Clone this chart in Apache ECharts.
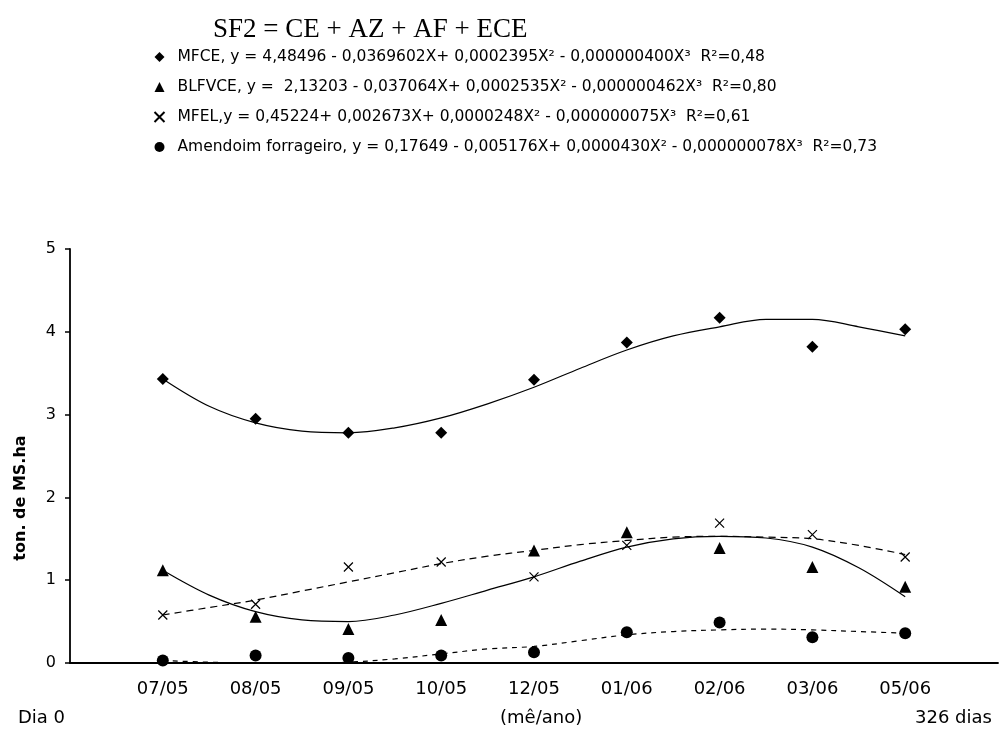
<!DOCTYPE html>
<html>
<head>
<meta charset="utf-8">
<script src="https://cdn.jsdelivr.net/npm/echarts@6/dist/echarts.min.js"></script>
<style>
  html, body { margin: 0; padding: 0; background: #fff; }
  #chart { width: 1001px; height: 729px; }
</style>
</head>
<body>
<div id="chart"></div>
<script>
// categories sit at axis positions 1..9 (0 = Dia 0, 10 = 326 dias)
const categories = ['07/05', '08/05', '09/05', '10/05', '12/05', '01/06', '02/06', '03/06', '05/06'];
const yTicks = [0, 1, 2, 3, 4, 5];

// observed points
const mfce = [3.43, 2.95, 2.78, 2.78, 3.42, 3.87, 4.17, 3.82, 4.03];
const blfvce = [1.12, 0.56, 0.41, 0.52, 1.36, 1.58, 1.39, 1.16, 0.92];
const mfel = [0.58, 0.71, 1.16, 1.22, 1.04, 1.42, 1.69, 1.55, 1.28];
const amendoim = [0.03, 0.09, 0.06, 0.09, 0.13, 0.37, 0.49, 0.31, 0.36];

// fitted curves, every half step
const trendPos = [1, 1.5, 2, 2.5, 3, 3.5, 4, 4.5, 5, 5.5, 6, 6.5, 7, 7.5, 8, 8.5, 9];
const mfceTrend = [3.43, 3.10, 2.90, 2.80, 2.78, 2.84, 2.96, 3.13, 3.33, 3.56, 3.78, 3.95, 4.06, 4.15, 4.15, 4.06, 3.95];
const blfvceTrend = [1.12, 0.82, 0.62, 0.52, 0.50, 0.58, 0.72, 0.88, 1.04, 1.23, 1.40, 1.50, 1.53, 1.51, 1.40, 1.15, 0.80];
const mfelTrend = [0.58, 0.67, 0.76, 0.87, 0.98, 1.09, 1.20, 1.29, 1.36, 1.43, 1.48, 1.52, 1.53, 1.52, 1.50, 1.42, 1.31];
const amendoimTrend = [0.03, 0.01, 0.00, 0.00, 0.01, 0.05, 0.11, 0.17, 0.20, 0.27, 0.34, 0.38, 0.40, 0.41, 0.40, 0.38, 0.36];

const legendText = {
  'MFCE': 'MFCE, y = 4,48496 - 0,0369602X+ 0,0002395X² - 0,000000400X³  R²=0,48',
  'BLFVCE': 'BLFVCE, y =  2,13203 - 0,037064X+ 0,0002535X² - 0,000000462X³  R²=0,80',
  'MFEL': 'MFEL,y = 0,45224+ 0,002673X+ 0,0000248X² - 0,000000075X³  R²=0,61',
  'Amendoim': 'Amendoim forrageiro, y = 0,17649 - 0,005176X+ 0,0000430X² - 0,000000078X³  R²=0,73'
};

const CROSS = 'path://M0,0L10,10M10,0L0,10';

function pts(arr) {
  return arr.map((v, i) => [i + 1, v]);
}
function trend(arr) {
  return trendPos.map((x, i) => [x, arr[i]]);
}
function trendLine(arr, type) {
  return {
    type: 'line',
    data: trend(arr),
    smooth: 0.35,
    symbol: 'none',
    silent: true,
    lineStyle: { color: '#000', width: 1.2, type: type },
    z: 1
  };
}

let myChart = echarts.init(document.getElementById('chart'));
myChart.setOption({
  animation: false,
  backgroundColor: '#fff',
  textStyle: { fontFamily: 'DejaVu Sans', color: '#000' },
  title: {
    text: 'SF2 = CE + AZ + AF + ECE',
    left: 208,
    top: 11,
    textStyle: { fontFamily: 'Liberation Serif', fontSize: 27, fontWeight: 'normal', color: '#000' }
  },
  legend: {
    orient: 'vertical',
    left: 147,
    top: 44,
    itemWidth: 10,
    itemHeight: 10,
    itemGap: 14,
    selectedMode: false,
    textStyle: { fontFamily: 'DejaVu Sans', fontSize: 15.5, color: '#000', padding: [0, 0, 0, 8] },
    formatter: function (name) {
      return legendText[name];
    },
    data: [
      { name: 'MFCE', icon: 'diamond' },
      { name: 'BLFVCE', icon: 'triangle' },
      { name: 'MFEL', icon: CROSS },
      { name: 'Amendoim', icon: 'circle' }
    ]
  },
  grid: { left: 70, top: 249, bottom: 66, right: -15 },
  xAxis: {
    type: 'value',
    min: 0,
    max: 10,
    interval: 1,
    splitLine: { show: false },
    axisTick: { show: false },
    axisLine: { lineStyle: { color: '#000', width: 1.8 } },
    axisLabel: {
      margin: 17,
      fontSize: 18,
      color: '#000',
      formatter: function (v) {
        return categories[v - 1] || '';
      }
    }
  },
  yAxis: {
    type: 'value',
    min: yTicks[0],
    max: yTicks[yTicks.length - 1],
    interval: 1,
    splitLine: { show: false },
    axisLine: { show: true, lineStyle: { color: '#000', width: 1.8 } },
    axisTick: { show: true, length: 5, lineStyle: { color: '#000', width: 1.5 } },
    axisLabel: { margin: 14, fontSize: 16, color: '#000' }
  },
  graphic: [
    {
      type: 'text', x: 21, y: 498, rotation: Math.PI / 2,
      style: { text: 'ton. de MS.ha', font: 'bold 16px "DejaVu Sans"', fill: '#000', align: 'center', verticalAlign: 'middle' }
    },
    { type: 'text', x: 18, y: 718, style: { text: 'Dia 0', font: '18px "DejaVu Sans"', fill: '#000', verticalAlign: 'middle' } },
    { type: 'text', x: 500, y: 718, style: { text: '(mê/ano)', font: '18px "DejaVu Sans"', fill: '#000', verticalAlign: 'middle' } },
    { type: 'text', x: 915, y: 718, style: { text: '326 dias', font: '18px "DejaVu Sans"', fill: '#000', verticalAlign: 'middle' } }
  ],
  series: [
    trendLine(mfceTrend, 'solid'),
    trendLine(blfvceTrend, 'solid'),
    trendLine(mfelTrend, [7, 5]),
    trendLine(amendoimTrend, [5, 5]),
    {
      name: 'MFCE', type: 'scatter', data: pts(mfce), symbol: 'diamond', symbolSize: 12,
      itemStyle: { color: '#000', opacity: 1 }, z: 3
    },
    {
      name: 'BLFVCE', type: 'scatter', data: pts(blfvce), symbol: 'triangle', symbolSize: 12,
      itemStyle: { color: '#000', opacity: 1 }, z: 3
    },
    {
      name: 'MFEL', type: 'scatter', data: pts(mfel), symbol: CROSS, symbolSize: 9,
      itemStyle: { color: 'none', borderColor: '#000', borderWidth: 1.2, opacity: 1 }, z: 3
    },
    {
      name: 'Amendoim', type: 'scatter', data: pts(amendoim), symbol: 'circle', symbolSize: 12,
      itemStyle: { color: '#000', opacity: 1 }, z: 3
    }
  ]
});
</script>
</body>
</html>
